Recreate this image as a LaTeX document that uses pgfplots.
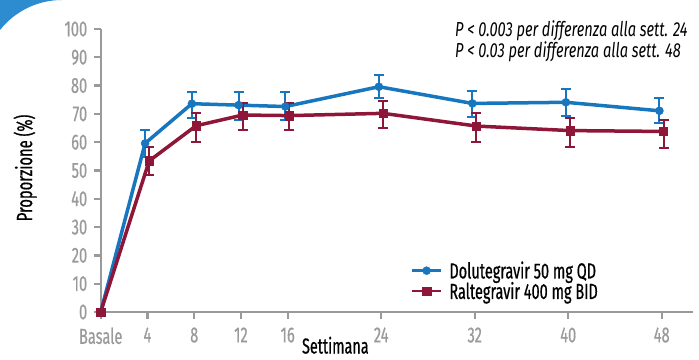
\documentclass[border=0pt]{standalone}
\usepackage{fontspec}
\setmainfont{Fira Sans}[FakeStretch=0.67, FakeBold=0.6]
\newfontfamily\legfont{Fira Sans}[FakeStretch=0.665, FakeBold=0.6]
\newfontfamily\annfont{Fira Sans}[FakeStretch=0.72]
\usepackage{pgfplots}
\usepackage{pgfplotstable}
\pgfplotsset{compat=1.18}
\definecolor{dolublue}{HTML}{1776BE}
\definecolor{ralred}{HTML}{8E1638}
\definecolor{axgray}{HTML}{9A9A9A}
\definecolor{arcblue}{HTML}{2D8BCF}

% week, value, error plus, error minus
\pgfplotstableread{
x     y     ep   em
0     0     0    0
3.8   59.6  4.8  5.0
7.8   73.6  4.0  5.0
11.8  73.1  4.5  5.2
15.8  72.6  5.0  4.8
23.8  79.6  4.0  4.1
31.8  73.7  4.5  4.9
39.8  74.1  4.7  4.8
47.8  71.1  4.6  4.4
}\dolutable
\pgfplotstableread{
x     y     ep   em
0     0     0    0
4.15  53.4  5.0  5.0
8.15  65.8  4.6  5.6
12.15 69.6  4.4  5.3
16.15 69.4  4.6  5.1
24.15 70.2  4.4  5.1
32.15 65.7  4.7  5.5
40.15 64.1  4.6  5.7
48.15 63.8  4.0  6.0
}\raltable

\begin{document}
\begin{tikzpicture}
\useasboundingbox (-100.7pt,-47pt) rectangle (598.3pt,312pt);
\fill[arcblue] (-100.7pt,312pt) -- (-38.7pt,312pt) arc[start angle=90, end angle=141.7, radius=79pt] -- cycle;
\begin{axis}[
  at={(0pt,0pt)}, anchor=south west,
  width=592.6pt, height=283pt, scale only axis,
  xmin=0, xmax=50.7, ymin=0, ymax=100,
  axis x line*=bottom, axis y line*=left,
  axis line style={axgray, line width=2.2pt},
  xtick={0,4,8,12,16,24,32,40,48},
  xticklabels={Basale,4,8,12,16,24,32,40,48},
  ytick={0,10,20,30,40,50,60,70,80,90,100},
  tick style={axgray, line width=2.2pt},
  tick align=outside, major tick length=7pt,
  /pgf/number format/assume math mode=true,
  ticklabel style={font=\fontsize{21.8}{24}\selectfont, text=axgray},
  yticklabel style={xshift=-3pt},
  xticklabel style={yshift=-5pt},
  xlabel={Settimana},
  xlabel style={at={(axis description cs:0.396,0)}, anchor=base, inner sep=0pt, yshift=-41.5pt, font=\fontsize{21.5}{24}\selectfont},
  ylabel={Proporzione (\%)},
  ylabel style={at={(axis description cs:-0.1075,0.509)}, anchor=south, inner sep=0pt, font=\fontsize{22}{24}\selectfont},
  clip=false,
  legend style={at={(axis description cs:0.518,0.19)}, anchor=north west, draw=none, fill=none,
    font=\legfont\fontsize{21.8}{24}\selectfont, row sep=0pt, nodes={inner sep=1pt},
    /tikz/every odd column/.append style={column sep=6pt}},
  legend cell align=left,
  legend image code/.code={\draw[#1, line width=2.5pt, mark repeat=2, mark phase=2] plot coordinates {(0pt,0pt) (14.5pt,0pt) (29pt,0pt)};},
]
\addplot[dolublue, line width=3.5pt, mark=*, mark size=4pt, mark options={solid, line width=0.5pt},
  error bars/.cd, y dir=both, y explicit,
  error bar style={line width=2pt, dolublue},
  error mark options={rotate=90, mark size=5pt, line width=2pt, dolublue}]
  table[x=x, y=y, y error plus=ep, y error minus=em] {\dolutable};
\addlegendentry{Dolutegravir 50 mg QD}
\addplot[ralred, line width=3.5pt, mark=square*, mark size=4.2pt, mark options={solid, line width=0.5pt},
  error bars/.cd, y dir=both, y explicit,
  error bar style={line width=2pt, ralred},
  error mark options={rotate=90, mark size=5pt, line width=2pt, ralred}]
  table[x=x, y=y, y error plus=ep, y error minus=em] {\raltable};
\addlegendentry{Raltegravir 400 mg BID}
\end{axis}
\node[anchor=base west, inner sep=0pt, font=\annfont\itshape\fontsize{20.3}{22}\selectfont] at (354.3pt,275.3pt) {P < 0.003 per differenza alla sett. 24};
\node[anchor=base west, inner sep=0pt, font=\annfont\itshape\fontsize{20.3}{22}\selectfont] at (354.3pt,254.7pt) {P < 0.03 per differenza alla sett. 48};
\end{tikzpicture}
\end{document}
